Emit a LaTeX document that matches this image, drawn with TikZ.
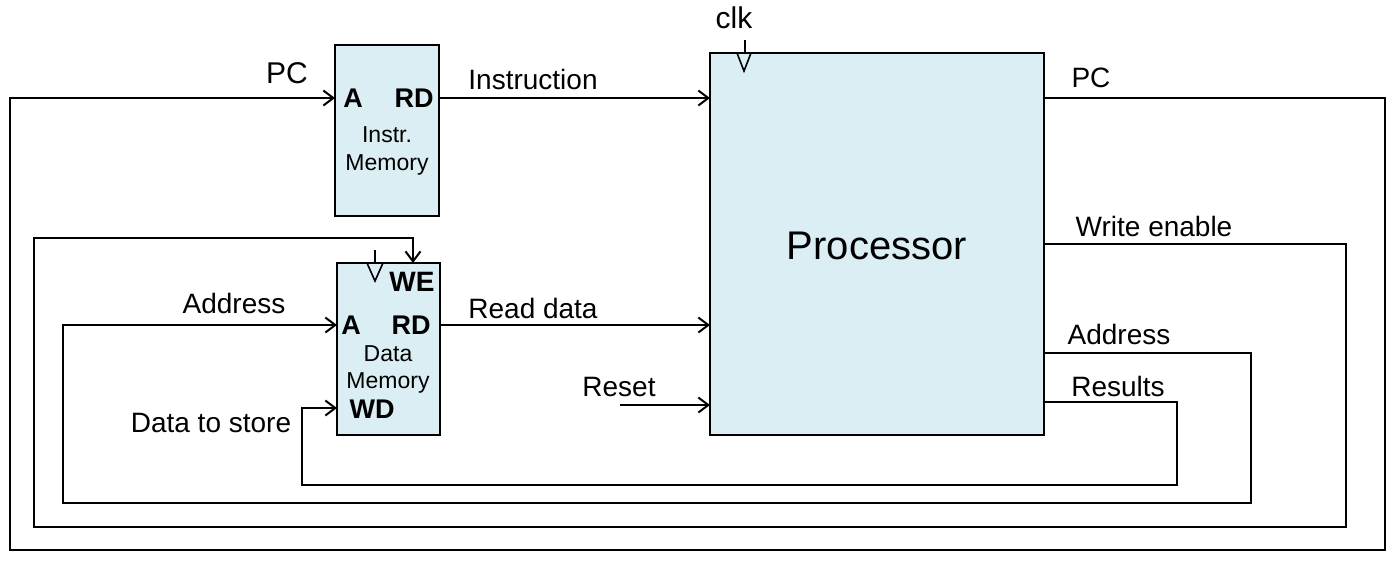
\documentclass[tikz,border=0pt]{standalone}
\usepackage{fontspec}
\setmainfont{Liberation Sans}
\usetikzlibrary{arrows.meta}
\definecolor{boxfill}{RGB}{218,238,243}
\begin{document}
\begin{tikzpicture}[x=0.5pt,y=-0.5pt, line width=1pt,
  blk/.style={draw, fill=boxfill, inner sep=0pt},
  arr/.style={-{Straight Barb[length=5pt,width=7.5pt]}},
  lbl/.style={font=\fontsize{14}{16}\selectfont, inner sep=0pt, anchor=base},
  portlbl/.style={font=\bfseries\fontsize{13.5}{15}\selectfont, inner sep=0pt, anchor=base},
  smalllbl/.style={font=\fontsize{11.5}{13}\selectfont, inner sep=0pt, anchor=base}]
\useasboundingbox (0,0) rectangle (1396,564);

% blocks
\node[blk, minimum width=52pt, minimum height=85.5pt] (imem) at (387,130.5) {};
\node[blk, minimum width=51.5pt, minimum height=86pt] (dmem) at (388.5,349) {};
\node[blk, minimum width=167pt, minimum height=191pt] (proc) at (877,244) {};
\node[font=\fontsize{20}{24}\selectfont, inner sep=0pt] (proctxt) at (877,246) {Processor};

% instruction memory labels
\node[portlbl] (iAl) at (353,107) {A};
\node[portlbl] (iRDl) at (414,107) {RD};
\node[smalllbl] (itxt1) at (387,142) {Instr.};
\node[smalllbl] (itxt2) at (387,170) {Memory};

% data memory labels
\node[portlbl, font=\bfseries\fontsize{14}{15}\selectfont] (dWEl) at (412,291) {WE};
\node[portlbl] (dAl) at (351,334) {A};
\node[portlbl] (dRDl) at (411,334) {RD};
\node[smalllbl] (dtxt1) at (388,361) {Data};
\node[smalllbl] (dtxt2) at (388,388) {Memory};
\node[portlbl] (dWDl) at (372,418) {WD};

% ports
\coordinate (iA) at (335,98);
\coordinate (iRD) at (439,98);
\coordinate (pInstr) at (710,98);
\coordinate (pPC) at (1044,98);
\coordinate (pWE) at (1044,244);
\coordinate (pAddr) at (1044,353);
\coordinate (pRes) at (1044,402);
\coordinate (pRD) at (710,325);
\coordinate (pReset) at (710,405);
\coordinate (resetSrc) at (620,405);
\coordinate (dWE) at (413,263);
\coordinate (dA) at (337,325);
\coordinate (dRD) at (440,325);
\coordinate (dWD) at (337,408);

% clock marks
\draw (745,40) -- (745,53);
\draw[line width=0.8pt] (737,53) -- (744,71) -- (751,53);
\draw (375,250) -- (375,263);
\draw[line width=0.8pt] (367,263) -- (375,281) -- (383,263);

% connectors
\draw[arr] (pPC) -- (1385,98) -- (1385,550) -- (10,550) -- (10,98) -- (iA);
\draw[arr] (iRD) -- (pInstr);
\draw[arr] (pWE) -- (1346,244) -- (1346,527) -- (34,527) -- (34,238) -- (413,238) -- (dWE);
\draw[arr] (pAddr) -- (1251,353) -- (1251,503) -- (63,503) -- (63,325) -- (dA);
\draw[arr] (pRes) -- (1177,402) -- (1177,485) -- (302,485) -- (302,408) -- (dWD);
\draw[arr] (dRD) -- (pRD);
\draw[arr] (resetSrc) -- (pReset);

% labels
\node[lbl, font=\fontsize{15}{17}\selectfont] (lclk) at (734,28) {clk};
\node[lbl, font=\fontsize{15}{17}\selectfont] (lpc1) at (287,83) {PC};
\node[lbl] (linstr) at (533,89) {Instruction};
\node[lbl] (lpc2) at (1091,87) {PC};
\node[lbl] (lwe) at (1154,236) {Write enable};
\node[lbl] (laddr2) at (1119,344) {Address};
\node[lbl] (lres) at (1118,396) {Results};
\node[lbl] (lreset) at (619,396) {Reset};
\node[lbl] (lrd) at (533,318) {Read data};
\node[lbl] (laddr1) at (234,313) {Address};
\node[lbl] (lstore) at (211,432) {Data to store};
\end{tikzpicture}
\end{document}
